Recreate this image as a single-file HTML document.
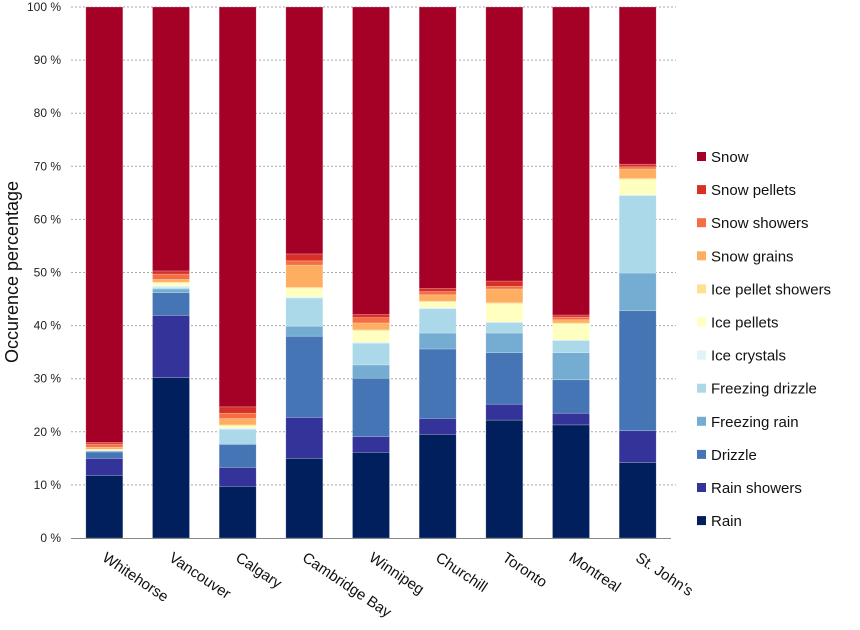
<!DOCTYPE html>
<html><head><meta charset="utf-8"><style>
body{margin:0;background:#fff;}
svg{display:block;font-family:"Liberation Sans",Arial,sans-serif;}
</style></head><body>
<svg id="chart" width="860" height="630"></svg>
<script>
const categories=["Whitehorse","Vancouver","Calgary","Cambridge Bay","Winnipeg","Churchill","Toronto","Montreal","St. John's"];
const seriesNames=["Rain","Rain showers","Drizzle","Freezing rain","Freezing drizzle","Ice crystals","Ice pellets","Ice pellet showers","Snow grains","Snow showers","Snow pellets","Snow"];
const rain=[11.8,30.2,9.7,15.0,16.1,19.5,22.2,21.3,14.2];
const rainShowers=[3.2,11.7,3.6,7.7,3.0,3.0,3.0,2.2,6.0];
const drizzle=[1.2,4.3,4.3,15.3,11.0,13.1,9.7,6.3,22.6];
const freezingRain=[0.2,0.7,0.2,1.9,2.5,3.0,3.7,5.1,7.1];
const freezingDrizzle=[0.1,0.3,2.7,5.3,4.1,4.6,2.0,2.3,14.6];
const iceCrystals=[0.0,0.3,0.2,0.2,0.2,0.2,0.1,0.1,0.1];
const icePellets=[0.2,0.5,0.4,1.6,2.1,1.0,3.4,3.0,2.9];
const icePelletShowers=[0.0,0.2,0.2,0.2,0.2,0.2,0.2,0.2,0.2];
const snowGrains=[0.4,0.5,1.2,4.2,1.3,1.2,2.6,0.6,1.8];
const snowShowers=[0.6,1.0,1.0,0.8,1.0,0.6,0.5,0.5,0.4];
const snowPellets=[0.3,0.6,1.2,1.3,0.6,0.6,1.0,0.4,0.5];
const snow=[82.0,49.7,75.3,46.5,57.9,53.0,51.6,58.0,29.6];
const yTicks=[0,10,20,30,40,50,60,70,80,90,100];

const series=[rain,rainShowers,drizzle,freezingRain,freezingDrizzle,iceCrystals,icePellets,icePelletShowers,snowGrains,snowShowers,snowPellets,snow];
const colors=["#001f5c","#333399","#4575b4","#74add1","#abd9e9","#e0f3f8","#ffffbf","#fee090","#fdae61","#f46d43","#d73027","#a50026"];
const NS="http://www.w3.org/2000/svg";
const svg=document.getElementById('chart');
const X0=71,X1=671,Y0=538,Y1=7;
const step=(X1-X0)/categories.length, bw=37;
const y=v=>Y0-(v/100)*(Y0-Y1);
const xc=i=>X0+step*(i+0.5);
function mk(t,a,p){const e=document.createElementNS(NS,t);for(const k in a)e.setAttribute(k,a[k]);(p||svg).appendChild(e);return e;}
yTicks.forEach(t=>{
  if(t>0){const g=mk('line',{x1:X0,x2:X1+5,y1:y(t),y2:y(t),stroke:'#aaa','stroke-dasharray':'2,2','stroke-width':1});
  
  }
  const tx=mk('text',{x:X0-10,y:y(t)+4,'text-anchor':'end','font-size':12,fill:'#222'});
  tx.textContent=t+' %';
  
  
});
categories.forEach((c,i)=>{
  let cum=0;
  series.forEach((s,k)=>{
    const v=s[i];
    const r=mk('rect',{x:xc(i)-bw/2,y:y(cum+v),width:bw,height:Math.max(0,y(cum)-y(cum+v)),fill:colors[k],stroke:'rgba(255,255,255,0.35)','stroke-width':0.6});
    
    
    cum+=v;
  });
  const lx=xc(i)-3, ly=560;
  const t=mk('text',{x:lx,y:ly,'font-size':15,fill:'#111',transform:`rotate(34 ${lx} ${ly})`});
  t.textContent=c;
  
  
});
const ax=mk('line',{x1:X0,x2:X1,y1:Y0+0.5,y2:Y0+0.5,stroke:'#888','stroke-width':1});


const yt=mk('text',{x:0,y:0,'font-size':18,fill:'#111','text-anchor':'middle',transform:'translate(18 272) rotate(-90)'});
yt.textContent='Occurence percentage';


const order=seriesNames.map((n,k)=>k).reverse();
order.forEach((k,j)=>{
  const ly=157+j*33.1;
  const g=mk('g',{});
  
  
  mk('rect',{x:697,y:ly-5,width:9,height:9,fill:colors[k]},g);
  const t=mk('text',{x:711,y:ly+5,'font-size':15,fill:'#111'},g);
  t.textContent=seriesNames[k];
});
</script>
</body></html>
